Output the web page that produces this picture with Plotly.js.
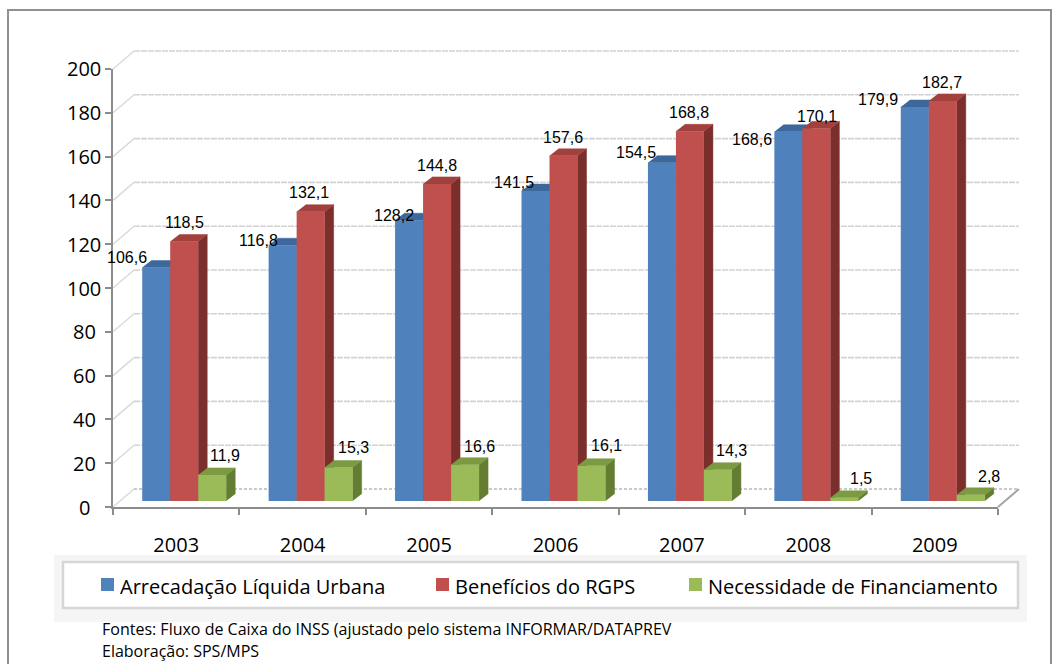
<!DOCTYPE html>
<html><head><meta charset="utf-8">
<script src="https://cdn.plot.ly/plotly-3.0.1.min.js"></script>
<style>html,body{margin:0;padding:0;background:#fff;}#chart{width:1057px;height:664px;}</style>
</head><body><div id="chart"></div>
<script>
// ---------- data ----------
const years = ['2003','2004','2005','2006','2007','2008','2009'];
const arrecadacao = [106.6,116.8,128.2,141.5,154.5,168.6,179.9];
const beneficios  = [118.5,132.1,144.8,157.6,168.8,170.1,182.7];
const necessidade = [11.9,15.3,16.6,16.1,14.3,1.5,2.8];
const seriesNames = ['Arrecadação Líquida Urbana','Benefícios do RGPS','Necessidade de Financiamento'];
const yTicks = [0,20,40,60,80,100,120,140,160,180,200];
const sourceLines = ['Fontes: Fluxo de Caixa do INSS (ajustado pelo sistema INFORMAR/DATAPREV','Elaboração: SPS/MPS'];

// ---------- styles / geometry (pixels) ----------
const W=1057,H=664;
const FX0=113,FX1=998,FY0=507,FY1=69;          // front axis box
const AX0=100,AX1=1040,AY0=40,AY1=520;         // wider box holding the 3D parts
const nCat=years.length;
const catW=(FX1-FX0)/nCat, kY=(FY0-FY1)/200;
const xRangeA=[-0.5-(FX0-AX0)/catW, nCat-0.5+(AX1-FX1)/catW];
const yRangeA=[-(AY1-FY0)/kY, 200+(FY1-AY0)/kY];
const bdx=21/catW, bdy=18/kY;     // back wall depth
const pdx=8/catW,  pdy=6/kY;      // bar plane depth
const tdx=9/catW,  tdy=7/kY;      // bar depth
const bw=28/catW;                 // bar width
const frontCol=['#4F81BD','#C0504D','#9BBB59'];
const topCol=['#3C689C','#A2403D','#7C9A42'];
const sideCol=['#2E5382','#7B2F2D','#637D32'];
const labelDx=[[-29,-24,-15,-22,-26,-36,-37],[0,-2,0,-1,-1,1,-1],[13,15,14,15,14,17,18]];
const labelDy=[[-10,-5,-5,-9,-10,8,-8],[-19,-19,-18,-18,-19,-12,-18],[-19,-20,-18,-20,-19,-19,-18]];
const seriesVals=[arrecadacao,beneficios,necessidade];
const fmt=v=>v.toFixed(1).replace('.',',');
const px=x=>x/W, py=y=>1-y/H;

const traces=[];
// back wall grid lines and side wall diagonals
const gx=[],gy=[],dx=[],dy=[];
yTicks.forEach(v=>{
  if(v>0){gx.push(-0.5+bdx,nCat-0.5+bdx,null);gy.push(v+bdy,v+bdy,null);}
  dx.push(-0.5,-0.5+bdx,null);dy.push(v,v+bdy,null);
});
traces.push({type:'scatter',mode:'lines',x:gx,y:gy,xaxis:'x',yaxis:'y',line:{color:'#d3d3d3',width:1.6,dash:'6px,1px'},hoverinfo:'skip',showlegend:false});
traces.push({type:'scatter',mode:'lines',x:dx,y:dy,xaxis:'x',yaxis:'y',line:{color:'#dadada',width:1.5},hoverinfo:'skip',showlegend:false});
traces.push({type:'scatter',mode:'lines',x:[-0.5+bdx,nCat-0.5+bdx],y:[bdy,bdy],xaxis:'x',yaxis:'y',line:{color:'#b8b8b8',width:1.3,dash:'3px,2px'},hoverinfo:'skip',showlegend:false});
traces.push({type:'scatter',mode:'lines',x:[nCat-0.5,nCat-0.5+bdx],y:[0,bdy],xaxis:'x',yaxis:'y',line:{color:'#a6a6a6',width:2},hoverinfo:'skip',showlegend:false});

// 3D side and top faces
seriesVals.forEach((vals,s)=>{
  const sx=[],sy=[],tx=[],ty=[];
  vals.forEach((v,i)=>{
    const xl=i+pdx+(s-1.5)*bw, xr=xl+bw, yb=pdy, yt=pdy+v;
    sx.push(xr,xr,xr+tdx,xr+tdx,null); sy.push(yb,yt,yt+tdy,yb+tdy,null);
    tx.push(xl,xr,xr+tdx,xl+tdx,null); ty.push(yt,yt,yt+tdy,yt+tdy,null);
  });
  traces.push({type:'scatter',mode:'lines',x:sx,y:sy,fill:'toself',fillcolor:sideCol[s],line:{color:sideCol[s],width:0.5},xaxis:'x',yaxis:'y',hoverinfo:'skip',showlegend:false});
  traces.push({type:'scatter',mode:'lines',x:tx,y:ty,fill:'toself',fillcolor:topCol[s],line:{color:topCol[s],width:0.5},xaxis:'x',yaxis:'y',hoverinfo:'skip',showlegend:false});
});

// bar fronts (overlay subplot, drawn above faces)
seriesVals.forEach((vals,s)=>{
  traces.push({type:'bar',name:seriesNames[s],x:years.map((_,i)=>i+pdx),y:vals,base:pdy,width:bw,offset:(s-1.5)*bw,
    marker:{color:frontCol[s],line:{width:0}},xaxis:'x2',yaxis:'y2',showlegend:false,hoverinfo:'skip'});
});

// visible axes subplot
traces.push({type:'scatter',x:[],y:[],xaxis:'x3',yaxis:'y3',showlegend:false,hoverinfo:'skip'});

const annotations=[];
seriesVals.forEach((vals,s)=>{
  vals.forEach((v,i)=>{
    annotations.push({xref:'x2',yref:'y2',x:i+pdx+(s-1)*bw,y:pdy+v,text:fmt(v),showarrow:false,
      xanchor:'center',yanchor:'middle',xshift:labelDx[s][i],yshift:-labelDy[s][i],
      font:{family:'Liberation Sans, Arial, sans-serif',size:16,color:'#000'}});
  });
});
yTicks.forEach(v=>{
  annotations.push({xref:'paper',yref:'y3',x:px(84),y:v,text:String(v),showarrow:false,xanchor:'center',yanchor:'middle',
    font:{family:'Open Sans, sans-serif',size:20,color:'#000'}});
});
// legend (manual)
const legX=[101,436,689];
const shapes=[
  {type:'rect',xref:'paper',yref:'paper',x0:px(8),x1:px(1051),y0:-0.05,y1:py(10),line:{color:'#909090',width:2},fillcolor:'rgba(0,0,0,0)',layer:'below'},
  {type:'rect',xref:'paper',yref:'paper',x0:px(54),x1:px(1027),y0:py(622),y1:py(555),line:{width:0},fillcolor:'#f5f5f5',layer:'below'},
  {type:'rect',xref:'paper',yref:'paper',x0:px(63),x1:px(1018),y0:py(608),y1:py(562),line:{color:'#d6d6d6',width:2.5},fillcolor:'#ffffff',layer:'below'}
];
seriesNames.forEach((n,s)=>{
  shapes.push({type:'rect',xref:'paper',yref:'paper',x0:px(legX[s]),x1:px(legX[s]+13),y0:py(591),y1:py(578),line:{width:0},fillcolor:frontCol[s]});
  annotations.push({xref:'paper',yref:'paper',x:px(legX[s]+17),y:py(586),text:n,showarrow:false,xanchor:'left',yanchor:'middle',
    font:{family:'Open Sans, sans-serif',size:20,color:'#000'}});
});
annotations.push({xref:'paper',yref:'paper',x:px(100),y:py(629),text:sourceLines[0],showarrow:false,xanchor:'left',yanchor:'middle',
  font:{family:'Open Sans, sans-serif',size:16,color:'#000'}});
annotations.push({xref:'paper',yref:'paper',x:px(100),y:0,text:sourceLines[1],showarrow:false,xanchor:'left',yanchor:'bottom',
  font:{family:'Open Sans, sans-serif',size:16,color:'#000'}});

const hidden={visible:false,showgrid:false,zeroline:false,fixedrange:true};
const layout={
  width:W,height:H,margin:{l:0,r:0,t:0,b:0},paper_bgcolor:'#fff',plot_bgcolor:'rgba(0,0,0,0)',
  showlegend:false,hovermode:false,barmode:'overlay',
  xaxis:Object.assign({},hidden,{domain:[px(AX0),px(AX1)],range:xRangeA,anchor:'y'}),
  yaxis:Object.assign({},hidden,{domain:[py(AY1),py(AY0)],range:yRangeA,anchor:'x'}),
  xaxis2:Object.assign({},hidden,{overlaying:'x',range:xRangeA,anchor:'y2'}),
  yaxis2:Object.assign({},hidden,{overlaying:'y',range:yRangeA,anchor:'x2'}),
  xaxis3:{domain:[px(FX0),px(FX1)],range:[-0.5,nCat-0.5],anchor:'y3',showgrid:false,zeroline:false,fixedrange:true,
    showline:true,linecolor:'#8c8c8c',linewidth:2,tickmode:'array',tickvals:years.map((_,i)=>i),ticktext:years,ticks:'',
    ticklabelstandoff:19,tickfont:{family:'Open Sans, sans-serif',size:20,color:'#000'},
    minor:{tickmode:'array',tickvals:years.map((_,i)=>i-0.5).concat([nCat-0.5]),ticks:'outside',ticklen:6,tickwidth:2,tickcolor:'#8c8c8c',showgrid:false}},
  yaxis3:{domain:[py(FY0),py(FY1)],range:[0,200],anchor:'x3',showgrid:false,zeroline:false,fixedrange:true,
    showline:true,linecolor:'#8c8c8c',linewidth:2,tickmode:'array',tickvals:yTicks,ticks:'outside',ticklen:6,tickwidth:2,tickcolor:'#8c8c8c',
    showticklabels:false},
  shapes:shapes,annotations:annotations
};
Plotly.newPlot('chart',traces,layout,{displayModeBar:false,staticPlot:true});
</script></body></html>
